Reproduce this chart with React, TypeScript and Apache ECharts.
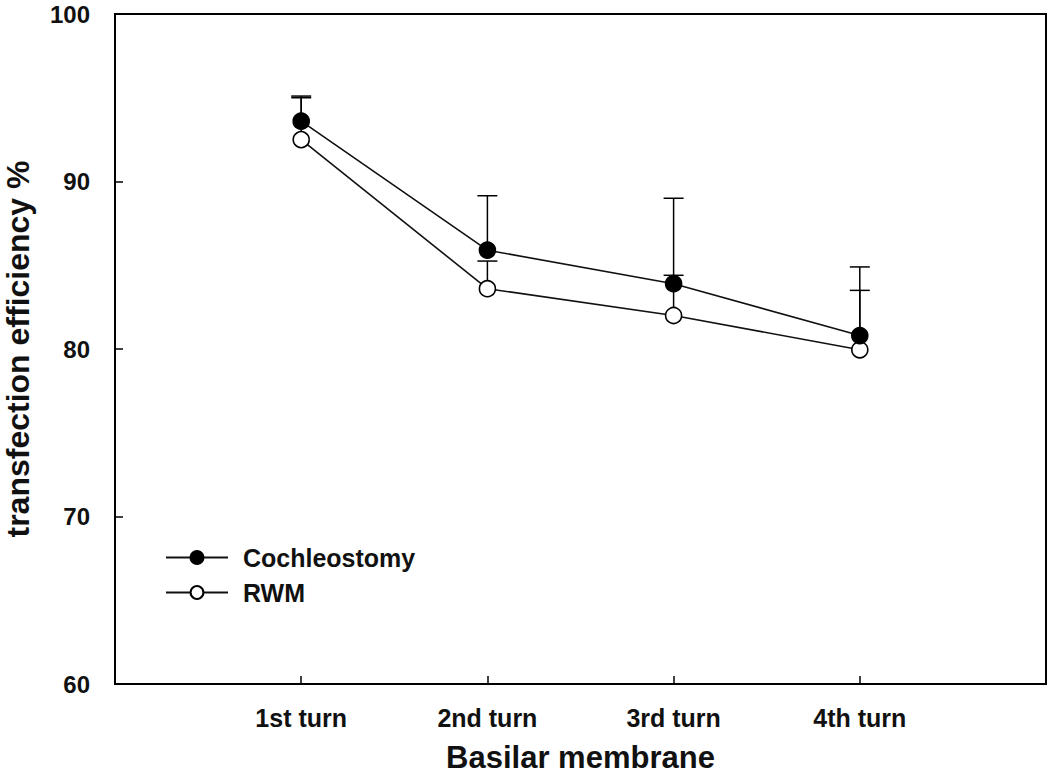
import React, { useEffect, useRef } from "react";
import * as echarts from "echarts";

const categories = ["1st turn", "2nd turn", "3rd turn", "4th turn"];
const cochleostomy = [93.6, 85.9, 83.9, 80.8];
const cochleostomyUpper = [95.1, 89.15, 89.0, 84.9];
const rwm = [92.5, 83.6, 82.0, 79.95];
const rwmUpper = [95.0, 85.25, 84.4, 83.5];
const yTicks = [60, 70, 80, 90, 100];

const FONT = "'Liberation Sans', Arial, sans-serif";

export default function App() {
  const ref = useRef<HTMLDivElement>(null);
  useEffect(() => {
    document.body.style.margin = "0";
    const chart = echarts.init(ref.current!, null, { renderer: "svg" });
    const pts = (vals: number[]) => vals.map((v, i) => [i + 1, v]);
    const errData = [
      ...cochleostomy.map((v, i) => [i + 1, v, cochleostomyUpper[i]]),
      ...rwm.map((v, i) => [i + 1, v, rwmUpper[i]]),
    ];
    const option: any = {
      animation: false,
      backgroundColor: "#fff",
      textStyle: { fontFamily: FONT },
      grid: {
        left: 115,
        right: 4,
        top: 14,
        bottom: 91,
        containLabel: false,
        outerBoundsMode: "none",
        show: true,
        borderColor: "#000",
        borderWidth: 2,
        backgroundColor: "transparent",
      },
      legend: {
        left: 160,
        top: 540,
        orient: "vertical",
        itemWidth: 62,
        itemHeight: 16,
        itemGap: 10,
        data: ["Cochleostomy", "RWM"],
        textStyle: {
          fontFamily: FONT,
          fontWeight: "bold",
          fontSize: 25,
          lineHeight: 25,
          color: "#111",
          padding: [0, 0, 0, 10],
        },
      },
      xAxis: {
        type: "value",
        min: 0,
        max: 5,
        interval: 1,
        name: "Basilar membrane",
        nameLocation: "middle",
        nameGap: 58,
        nameTextStyle: { fontFamily: FONT, fontWeight: "bold", fontSize: 31, color: "#111" },
        axisLine: { lineStyle: { color: "#000", width: 2 } },
        axisTick: { inside: true, length: 8, lineStyle: { color: "#000", width: 1.5 } },
        splitLine: { show: false },
        axisLabel: {
          margin: 21,
          fontFamily: FONT,
          fontWeight: "bold",
          fontSize: 25,
          color: "#111",
          formatter: (v: number) => (v >= 1 && v <= categories.length ? categories[v - 1] : ""),
        },
      },
      yAxis: {
        type: "value",
        min: yTicks[0],
        max: yTicks[yTicks.length - 1],
        interval: 10,
        name: "transfection efficiency %",
        nameLocation: "middle",
        nameGap: 81,
        nameTextStyle: { fontFamily: FONT, fontWeight: "bold", fontSize: 32, color: "#111" },
        axisLine: { show: true, lineStyle: { color: "#000", width: 2 } },
        axisTick: { show: true, inside: true, length: 8, lineStyle: { color: "#000", width: 1.5 } },
        splitLine: { show: false },
        axisLabel: { margin: 25, fontFamily: FONT, fontWeight: "bold", fontSize: 24, color: "#111" },
      },
      series: [
        {
          type: "custom",
          name: "err",
          z: 1,
          silent: true,
          data: errData,
          renderItem: (params: any, api: any) => {
            const x = api.value(0);
            const lo = api.coord([x, api.value(1)]);
            const hi = api.coord([x, api.value(2)]);
            const w = 10;
            const style = { stroke: "#000", lineWidth: 1.5 };
            return {
              type: "group",
              children: [
                { type: "line", shape: { x1: lo[0], y1: lo[1], x2: hi[0], y2: hi[1] }, style },
                { type: "line", shape: { x1: hi[0] - w, y1: hi[1], x2: hi[0] + w, y2: hi[1] }, style },
              ],
            };
          },
        },
        {
          type: "line",
          name: "RWM",
          z: 3,
          data: pts(rwm),
          symbol: "circle",
          symbolSize: 16,
          lineStyle: { color: "#111", width: 1.6 },
          itemStyle: { color: "#fff", borderColor: "#000", borderWidth: 1.6 },
        },
        {
          type: "line",
          name: "Cochleostomy",
          z: 4,
          data: pts(cochleostomy),
          symbol: "circle",
          symbolSize: 16,
          lineStyle: { color: "#111", width: 1.6 },
          itemStyle: { color: "#000", borderColor: "#000", borderWidth: 1.6 },
        },
      ],
    };
    chart.setOption(option);
    return () => chart.dispose();
  }, []);
  return <div ref={ref} style={{ width: 1050, height: 775 }} />;
}
